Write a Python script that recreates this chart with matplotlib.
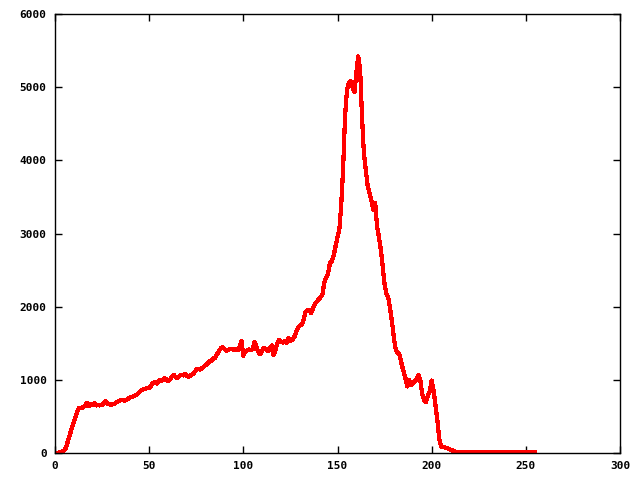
import numpy as np
import matplotlib
matplotlib.use("Agg")
from matplotlib import pyplot as plt

plt.rcParams["font.family"] = "DejaVu Sans Mono"
plt.rcParams["font.weight"] = "bold"
plt.rcParams["font.size"] = 8

# histogram counts for bins 0..255
counts = [
    0, 0, 5, 10, 20, 40, 80, 180, 260, 350,
    430, 500, 580, 620, 610, 630, 640, 690, 640, 670,
    660, 680, 650, 655, 650, 660, 680, 710, 670, 665,
    660, 670, 680, 700, 710, 725, 720, 715, 730, 745,
    760, 770, 780, 790, 810, 840, 862, 870, 880, 885,
    890, 920, 960, 965, 950, 980, 1000, 990, 1020, 1010,
    980, 1000, 1040, 1070, 1040, 1020, 1050, 1070, 1060, 1080,
    1050, 1045, 1060, 1075, 1100, 1140, 1150, 1140, 1160, 1180,
    1200, 1220, 1250, 1260, 1290, 1300, 1350, 1390, 1430, 1450,
    1420, 1400, 1410, 1420, 1425, 1410, 1420, 1405, 1450, 1530,
    1330, 1380, 1400, 1415, 1410, 1420, 1520, 1450, 1380, 1350,
    1400, 1440, 1420, 1390, 1420, 1470, 1340, 1400, 1500, 1550,
    1520, 1510, 1530, 1500, 1570, 1530, 1550, 1580, 1650, 1710,
    1740, 1750, 1820, 1930, 1950, 1960, 1910, 1980, 2040, 2070,
    2100, 2130, 2170, 2330, 2400, 2450, 2600, 2620, 2700, 2830,
    2950, 3060, 3400, 3900, 4600, 4950, 5060, 5080, 5000, 4930,
    5200, 5420, 5250, 4600, 4100, 3870, 3650, 3550, 3450, 3320,
    3420, 3100, 2950, 2780, 2550, 2300, 2180, 2120, 1960, 1780,
    1560, 1400, 1370, 1340, 1220, 1120, 1030, 910, 1000, 930,
    950, 980, 1010, 1070, 990, 800, 720, 700, 780, 850,
    990, 860, 650, 450, 200, 90, 80, 75, 70, 55,
    45, 35, 20, 18, 16, 15, 15, 14, 14, 13,
    13, 12, 12, 12, 12, 12, 12, 12, 12, 12,
    12, 12, 12, 0, 12, 12, 12, 12, 12, 12,
    12, 12, 0, 12, 12, 12, 0, 12, 12, 12,
    12, 12, 12, 0, 12, 12,
]
bins = np.arange(len(counts))

xticks = [0, 50, 100, 150, 200, 250, 300]
yticks = [0, 1000, 2000, 3000, 4000, 5000, 6000]

fig = plt.figure(figsize=(6.4, 4.8), dpi=100)
ax = fig.add_axes([55 / 640, 27 / 480, 565 / 640, 439 / 480])
ax.plot(bins, counts, color="#ff0000", lw=2.3, antialiased=False)

ax.set_xlim(0, 300)
ax.set_ylim(0, 6000)
ax.set_xticks(xticks)
ax.set_yticks(yticks)
ax.tick_params(direction="in", length=5, width=1, top=True, right=True, pad=6)
for s in ax.spines.values():
    s.set_linewidth(1)

fig.savefig("out.png", dpi=100)
